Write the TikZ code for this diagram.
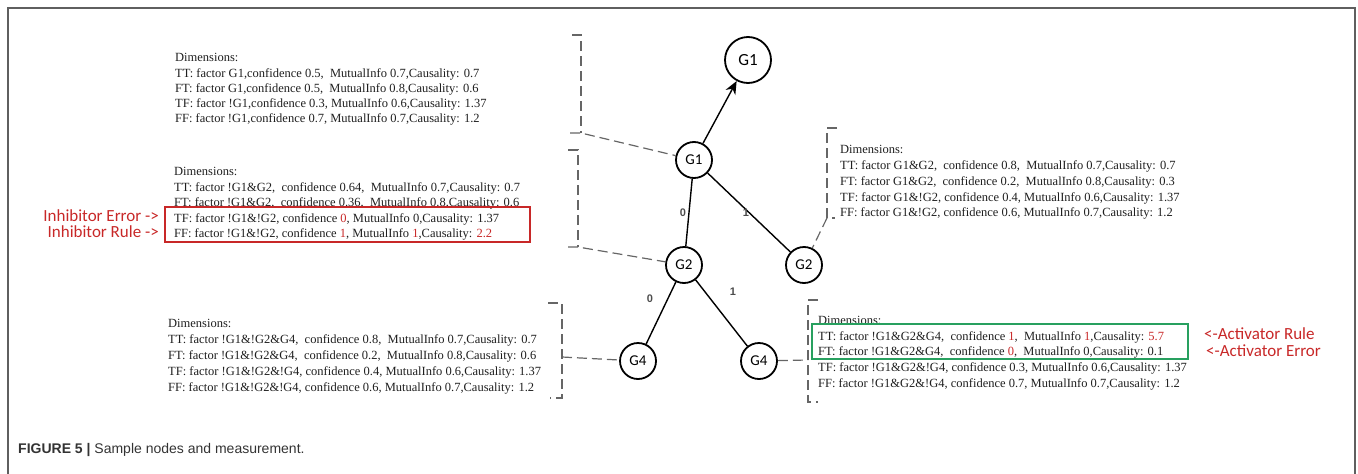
\documentclass[tikz,border=0pt]{standalone}
\usepackage{fontspec}
\setmainfont{Liberation Serif}
\newfontfamily\calibfont{Carlito}
\newfontfamily\arialfont{Liberation Sans}
\usetikzlibrary{arrows.meta}
\definecolor{myred}{RGB}{200,40,40}
\definecolor{mygreen}{RGB}{40,160,95}
\definecolor{framegray}{RGB}{95,95,95}
\newcommand{\rd}[1]{\textcolor{myred}{#1}}
\begin{document}
\begin{tikzpicture}[x=1pt,y=-1pt,
  gnode/.style={circle,draw,line width=1.8pt,minimum size=36pt,inner sep=0pt,font=\calibfont\fontsize{15}{15}\selectfont},
  topnode/.style={gnode,minimum size=46pt,font=\calibfont\fontsize{17}{17}\selectfont},
  edgeline/.style={line width=1.4pt},
  elabel/.style={font=\arialfont\bfseries\fontsize{11}{11}\selectfont,text=black!70,inner sep=0pt},
  dimtext/.style={align=left,anchor=north west,inner sep=0pt,text=black!88},
  brk/.style={draw=black!60,line width=1.2pt,dash pattern=on 10pt off 5pt},
  annot/.style={font=\calibfont\fontsize{17}{17}\selectfont,text=myred,inner sep=0pt},
]
\useasboundingbox (0,0) rectangle (1358,474);
% frame
\draw[framegray,line width=1.5pt] (8,474) -- (8,8) -- (1355,8) -- (1355,474);

% graph nodes
\node[topnode] (g1top) at (748,60) {G1};
\node[gnode] (g1) at (694,160) {G1};
\node[gnode] (g2) at (684,265) {G2};
\node[gnode] (g2r) at (804,265) {G2};
\node[gnode] (g4l) at (638,361) {G4};
\node[gnode] (g4r) at (759,361) {G4};

\draw[edgeline,-{Stealth[length=13pt,width=11pt]}] (g1) -- (g1top);
\draw[edgeline] (g1) -- (g2);
\draw[edgeline] (g1) -- (g2r);
\draw[edgeline] (g2) -- (g4l);
\draw[edgeline] (g2) -- (g4r);
\node[elabel] (l0a) at (683,213) {0};
\node[elabel] (l1a) at (746,213) {1};
\node[elabel] (l0b) at (650,299) {0};
\node[elabel] (l1b) at (733,292) {1};

% text blocks
\node[dimtext,font=\fontsize{12.5}{15.2}\selectfont] (blk1) at (175,53.5) {Dimensions:\\
TT: factor G1,confidence 0.5,\ \ MutualInfo 0.7,Causality: 0.7\\
FT: factor G1,confidence 0.5,\ \ MutualInfo 0.8,Causality: 0.6\\
TF: factor !G1,confidence 0.3, MutualInfo 0.6,Causality: 1.37\\
FF: factor !G1,confidence 0.7, MutualInfo 0.7,Causality: 1.2};

\node[dimtext,font=\fontsize{12.5}{15.5}\selectfont] (blk2) at (174,167.5) {Dimensions:\\
TT: factor !G1\&G2,\ \ confidence 0.64,\ \ MutualInfo 0.7,Causality: 0.7\\
FT: factor !G1\&G2,\ \ confidence 0.36,\ \ MutualInfo 0.8,Causality: 0.6\\
TF: factor !G1\&!G2, confidence \rd{0}, MutualInfo 0,Causality: 1.37\\
FF: factor !G1\&!G2, confidence \rd{1}, MutualInfo \rd{1},Causality: \rd{2.2}};

\node[dimtext,font=\fontsize{12.5}{15.75}\selectfont] (blk3) at (840,145.5) {Dimensions:\\
TT: factor G1\&G2,\ \ confidence 0.8,\ \ MutualInfo 0.7,Causality: 0.7\\
FT: factor G1\&G2,\ \ confidence 0.2,\ \ MutualInfo 0.8,Causality: 0.3\\
TF: factor G1\&!G2, confidence 0.4, MutualInfo 0.6,Causality: 1.37\\
FF: factor G1\&!G2, confidence 0.6, MutualInfo 0.7,Causality: 1.2};

\node[dimtext,font=\fontsize{12.5}{16}\selectfont] (blk4) at (168,319.5) {Dimensions:\\
TT: factor !G1\&!G2\&G4,\ \ confidence 0.8,\ \ MutualInfo 0.7,Causality: 0.7\\
FT: factor !G1\&!G2\&G4,\ \ confidence 0.2,\ \ MutualInfo 0.8,Causality: 0.6\\
TF: factor !G1\&!G2\&!G4, confidence 0.4, MutualInfo 0.6,Causality: 1.37\\
FF: factor !G1\&!G2\&!G4, confidence 0.6, MutualInfo 0.7,Causality: 1.2};

\node[dimtext,font=\fontsize{12.5}{15.75}\selectfont] (blk5) at (818,316) {Dimensions:\\
TT: factor !G1\&G2\&G4,\ \ confidence \rd{1},\ \ MutualInfo \rd{1},Causality: \rd{5.7}\\
FT: factor !G1\&G2\&G4,\ \ confidence \rd{0},\ \ MutualInfo 0,Causality: 0.1\\
TF: factor !G1\&G2\&!G4, confidence 0.3, MutualInfo 0.6,Causality: 1.37\\
FF: factor !G1\&G2\&!G4, confidence 0.7, MutualInfo 0.7,Causality: 1.2};

% highlight boxes
\draw[myred,line width=2.5pt] (165,207) rectangle (530,242);
\draw[mygreen,line width=2pt] (812,324) rectangle (1188,359);

% annotations
\node[annot,anchor=base east] (ierr) at (159,221) {Inhibitor Error ->};
\node[annot,anchor=base east] (irule) at (159,237) {Inhibitor Rule ->};
\node[annot,anchor=base west] (arule) at (1204,339) {<-Activator Rule};
\node[annot,anchor=base west] (aerr) at (1206,356) {<-Activator Error};

% dashed brackets and leaders
\coordinate (b1c) at (581,133);
\coordinate (b2c) at (578,247);
\coordinate (b3c) at (827,218);
\coordinate (b4c) at (562,357);
\coordinate (b5c) at (808,360);
\draw[brk] (572,35) -- (581,35) -- (b1c);
\draw[brk] (570,133) -- (b1c) -- (g1);
\draw[brk] (568,150) -- (578,150) -- (b2c);
\draw[brk] (568,247) -- (b2c) -- (g2);
\draw[brk] (837,128) -- (827,128) -- (b3c) -- (835,218);
\draw[brk] (b3c) -- (g2r);
\draw[brk] (548,303) -- (562,303) -- (562,398) -- (550,398);
\draw[brk] (b4c) -- (g4l);
\draw[brk] (818,300) -- (808,300) -- (808,402) -- (818,402);
\draw[brk] (g4r) -- (b5c);

% caption
\node[anchor=base west,inner sep=0pt,font=\arialfont\fontsize{14}{14}\selectfont,text=black!80] (cap) at (18,453) {\textbf{FIGURE 5 |} Sample nodes and measurement.};
\end{tikzpicture}
\end{document}
